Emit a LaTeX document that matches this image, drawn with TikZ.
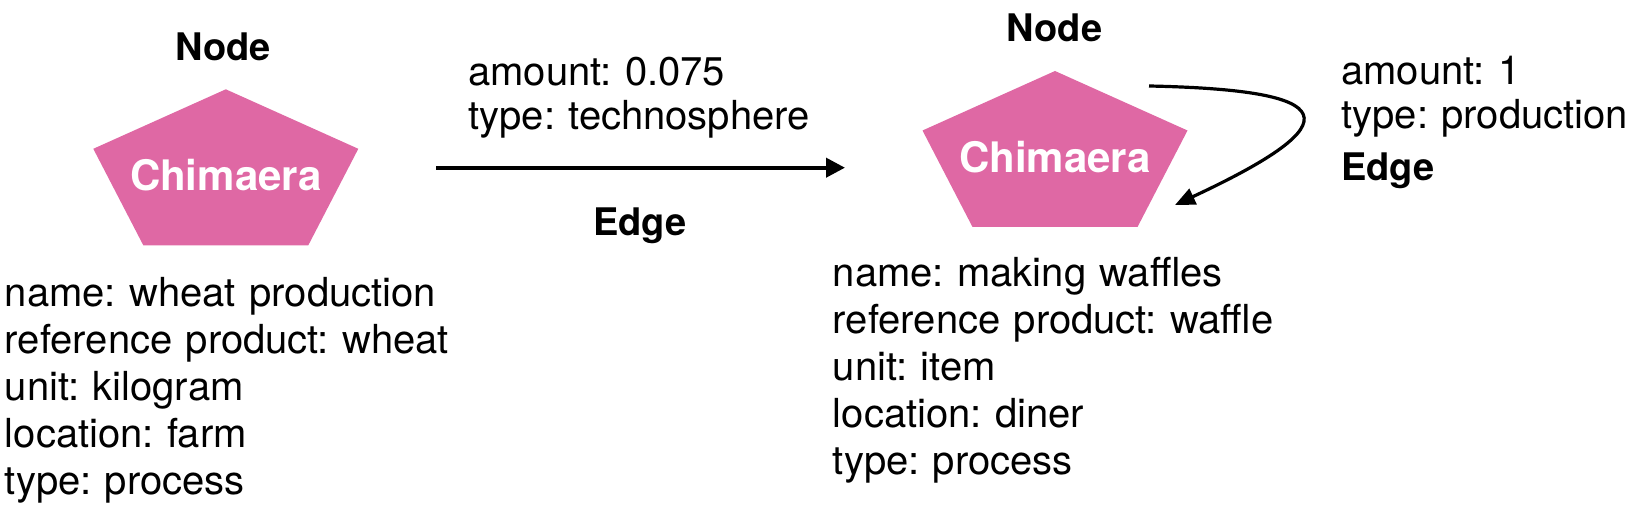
\documentclass[tikz,border=0pt]{standalone}
\usepackage{fontspec}
\setmainfont{TeX Gyre Heros}
\usetikzlibrary{arrows.meta}
\definecolor{chimpink}{HTML}{DF68A4}

\begin{document}
\begin{tikzpicture}[x = 0.5pt, y = -0.5pt,
  pent/.style = {fill = chimpink},
  chim/.style = {text = white, inner sep = 0pt, font = \bfseries\fontsize{21}{26}\selectfont},
  info/.style = {anchor = base west, inner sep = 0pt, align = left, text width = 250pt, font = \frenchspacing\fontsize{20}{23.5}\selectfont},
  edgeinfo/.style = {info, font = \frenchspacing\fontsize{20}{22}\selectfont},
  heading/.style = {inner sep = 0pt, anchor = base, font = \bfseries\fontsize{19}{22}\selectfont},
  flow/.style = {-{Triangle[length = 9.5pt, width = 9.5pt]}, line width = 2pt},
  loopflow/.style = {-{Triangle[length = 10pt, width = 8.5pt]}, line width = 1.6pt}]
\useasboundingbox (0,0) rectangle (1637,506);
\fill [pent] (225.8,89.3) -- (358.3,148.8) -- (308.3,245.3) -- (143.3,245.3) -- (93.3,148.8) -- cycle;
\fill [pent] (1055,71) -- (1187.5,130.5) -- (1137.5,227) -- (972.5,227) -- (922.5,130.5) -- cycle;
\node [chim] (wheat) at (225.8,175.3) {Chimaera};
\node [chim] (waffle) at (1055,157) {Chimaera};
\node [heading] (wheathead) at (223,60.7) {Node};
\node [heading] (wafflehead) at (1054.5,42) {Node};
\node [info] (wheatinfo) at (4.5,307) {name: wheat production\\reference product: wheat\\unit: kilogram\\location: farm\\type: process};
\node [info] (waffleinfo) at (832.5,287) {name: making waffles\\reference product: waffle\\unit: item\\location: diner\\type: process};
\coordinate (techstart) at (436,167.7);
\coordinate (techend) at (845,167.7);
\draw [flow] (techstart) -- (techend);
\node [edgeinfo] (techinfo) at (468,86) {amount: 0.075\\type: technosphere};
\node [heading] (techhead) at (640,236) {Edge};
\coordinate (prodstart) at (1149,86);
\coordinate (prodend) at (1175,205);
\draw [loopflow] (prodstart) .. controls (1340,90) and (1355,121) .. (prodend);
\node [edgeinfo] (prodinfo) at (1341,85) {amount: 1\\type: production};
\node [heading, anchor = base west] (prodhead) at (1341,181) {Edge};
\end{tikzpicture}
\end{document}
